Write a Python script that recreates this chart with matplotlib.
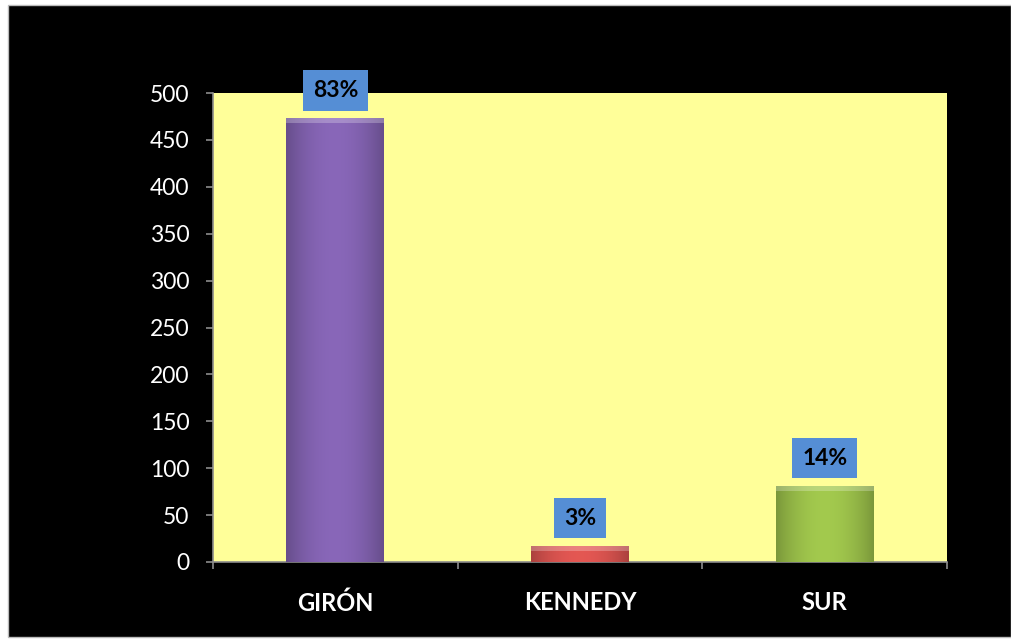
import matplotlib
matplotlib.use("Agg")
import matplotlib.pyplot as plt
import numpy as np
from matplotlib.patches import Rectangle
from matplotlib.colors import to_rgb

categories = ["GIRÓN", "KENNEDY", "SUR"]
values = [473, 17, 81]
pct_labels = ["83%", "3%", "14%"]
yticks = [0, 50, 100, 150, 200, 250, 300, 350, 400, 450, 500]

bar_colors = ["#8262B0", "#D9534F", "#9BC04A"]

plt.rcParams['font.family'] = ['Lato', 'DejaVu Sans']

fig = plt.figure(figsize=(10.11, 6.41), dpi=100)
fig.patch.set_facecolor("white")
# black chart background
fig.add_artist(Rectangle((8/1011, 4/641), 1 - 8/1011, 1 - 9/641,
                         transform=fig.transFigure, facecolor="black",
                         edgecolor="#BBBBBB", linewidth=1, zorder=0))

ax = fig.add_axes([213/1011, 79/641, (947-213)/1011, (562-93)/641])
ax.set_facecolor("#FFFF99")
ax.set_xlim(-0.5, 2.5)
ax.set_ylim(0, 500)

x = np.arange(len(categories))
width = 0.40
bars = ax.bar(x, values, width=width, color=bar_colors, edgecolor="none", zorder=2)

# soft gradient shading on bars
grad = np.linspace(-1, 1, 200)
shade = 1 - 0.25 * grad**2
for b, c in zip(bars, bar_colors):
    rgb = np.array(to_rgb(c))
    img = np.clip(shade[None, :, None] * rgb[None, None, :] * 1.05, 0, 1)
    x0, y0 = b.get_x(), b.get_y()
    w, h = b.get_width(), b.get_height()
    im = ax.imshow(img, extent=[x0, x0 + w, y0, y0 + h], aspect="auto",
                   zorder=3, interpolation="bilinear")
    im.set_clip_path(b)
    # top bevel highlight
    ax.add_patch(Rectangle((x0, y0 + h - min(h * 0.35, 5)), w, min(h * 0.35, 5),
                           facecolor="white", alpha=0.25, edgecolor="none", zorder=4))

ax.set_xlim(-0.5, 2.5)
ax.set_ylim(0, 500)

for xi, v, lab in zip(x, values, pct_labels):
    ax.annotate(lab, xy=(xi, v), xytext=(0, 20), textcoords="offset points",
                ha="center", va="center", fontsize=16.5, fontweight="bold",
                color="black", zorder=6,
                bbox=dict(boxstyle="square,pad=0.42", facecolor="#558ED5",
                          edgecolor="none"), annotation_clip=False)

for s in ["top", "right"]:
    ax.spines[s].set_visible(False)
for s in ["left", "bottom"]:
    ax.spines[s].set_color("#8C8C8C")
    ax.spines[s].set_linewidth(1.2)

ax.set_yticks(yticks)
ax.tick_params(axis="y", colors="#8C8C8C", length=5, width=1.2, pad=12,
               labelcolor="white", labelsize=16.5)
ax.set_xticks([-0.5, 0.5, 1.5, 2.5])
ax.set_xticklabels([])
ax.tick_params(axis="x", which="major", colors="#8C8C8C", length=5, width=1.2)
ax.set_xticks(x, minor=True)
ax.set_xticklabels(categories, minor=True)
ax.tick_params(axis="x", which="minor", length=0, pad=21, labelcolor="white",
               labelsize=17)
for t in ax.get_xticklabels(minor=True):
    t.set_fontweight("bold")

fig.savefig("out.png", dpi=100, facecolor=fig.get_facecolor())
